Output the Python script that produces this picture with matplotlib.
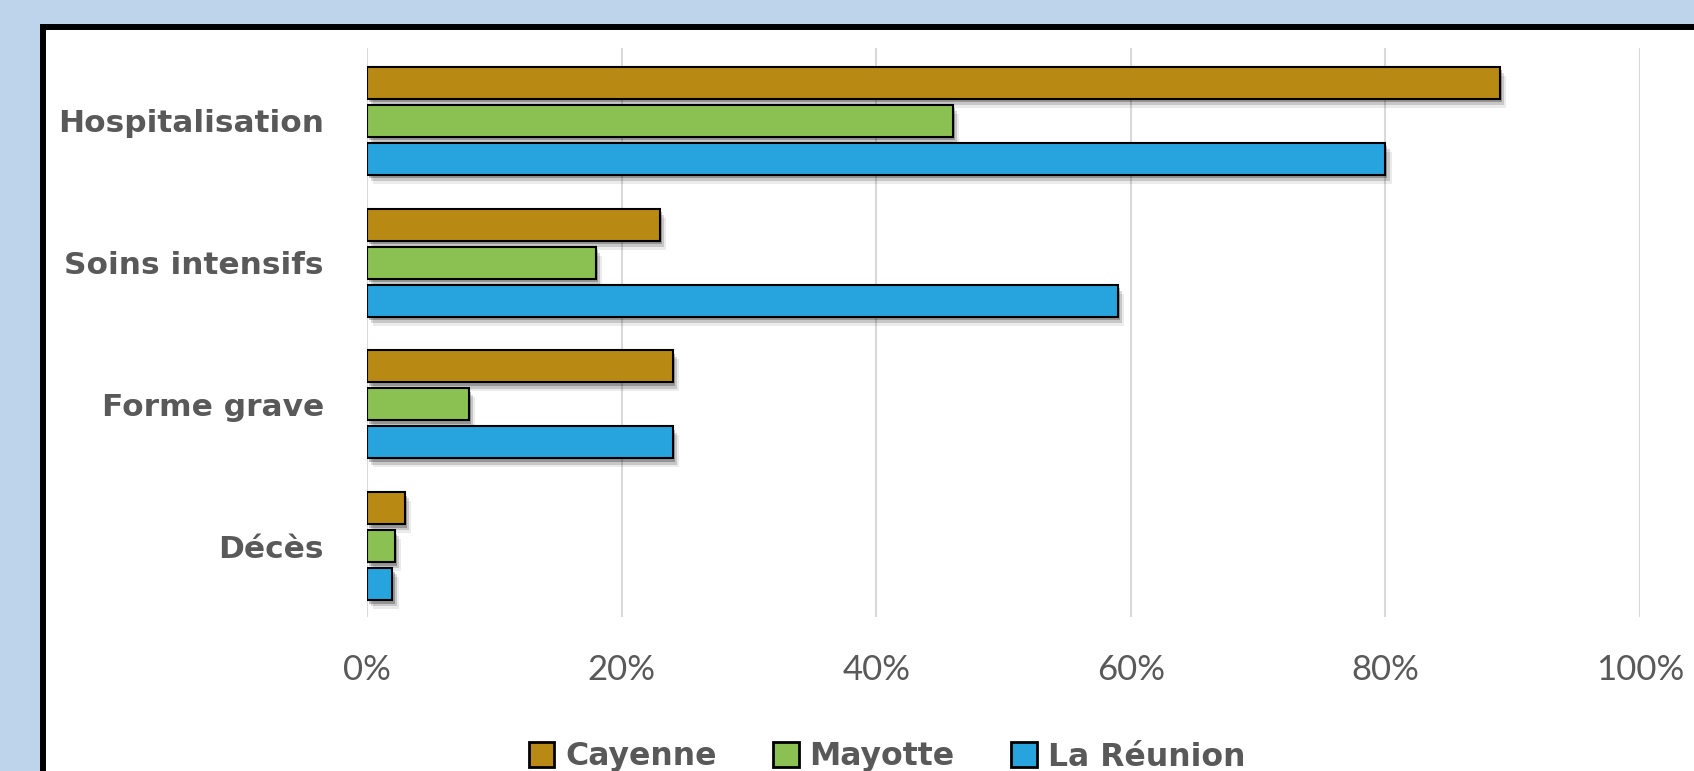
import matplotlib
matplotlib.use("Agg")
import matplotlib.pyplot as plt
import matplotlib.patheffects as pe
from matplotlib.patches import Rectangle, Patch
import numpy as np

categories = ["Décès", "Forme grave", "Soins intensifs", "Hospitalisation"]
series_names = ["Cayenne", "Mayotte", "La Réunion"]
cayenne = [3, 24, 23, 89]
mayotte = [2.2, 8, 18, 46]
reunion = [2, 24, 59, 80]
xticks = [0, 20, 40, 60, 80, 100]
xtick_labels = ["0%", "20%", "40%", "60%", "80%", "100%"]

colors = ["#B88A14", "#8BC152", "#27A4DD"]
text_color = "#595959"
plt.rcParams['font.family'] = ['Lato', 'DejaVu Sans']

W, H = 1694, 771
fig = plt.figure(figsize=(W / 100, H / 100), dpi=100)
fig.patch.set_facecolor("#BED4EA")

# white panel with black border (extends past right/bottom)
panel = Rectangle((43 / W, -0.2), 1.2, 1 - 27 / H + 0.2, transform=fig.transFigure,
                  facecolor="white", edgecolor="black", linewidth=4.3, zorder=-10)
fig.patches.append(panel)

ax = fig.add_axes([367 / W, 1 - 617 / H, (1640 - 367) / W, (617 - 48) / H])
ax.set_facecolor("none")

y = np.arange(len(categories))
offset = 0.268
height = 0.226
shadow = [pe.SimplePatchShadow(offset=(1.5, -2.5), shadow_rgbFace="black", alpha=0.25),
          pe.SimplePatchShadow(offset=(3, -4.5), shadow_rgbFace="black", alpha=0.15),
          pe.SimplePatchShadow(offset=(4.5, -6.5), shadow_rgbFace="black", alpha=0.08),
          pe.Normal()]
for vals, off, col in zip([cayenne, mayotte, reunion], [offset, 0, -offset], colors):
    bars = ax.barh(y + off, vals, height=height, color=col, edgecolor="black",
                   linewidth=1.5, zorder=3)
    for b in bars:
        b.set_path_effects(shadow)

ax.set_xlim(0, 100)
ax.set_ylim(-0.5, 3.515)
ax.set_xticks(xticks)
ax.set_xticklabels(xtick_labels, fontsize=25, color=text_color)
ax.set_yticks(y)
ax.set_yticklabels(categories, fontsize=22.5, fontweight="bold", color=text_color,
                   family="DejaVu Sans")
ax.tick_params(axis="x", length=0, pad=27)
ax.tick_params(axis="y", length=0, pad=31)
ax.grid(axis="x", color="#D9D9D9", linewidth=1.5, zorder=0)
ax.set_axisbelow(True)
for s in ax.spines.values():
    s.set_visible(False)

handles = [Patch(facecolor=c, edgecolor="black", linewidth=2) for c in colors]
leg = fig.legend(handles, series_names, loc="center", bbox_to_anchor=(887 / W, 1 - 757 / H),
                 ncol=3, frameon=False, handlelength=0.8, handleheight=0.8,
                 handletextpad=0.35, columnspacing=1.8, borderpad=0,
                 prop={"size": 22.7, "weight": "bold", "family": "DejaVu Sans"})
for t in leg.get_texts():
    t.set_color(text_color)

fig.savefig("out.png", dpi=100, facecolor=fig.get_facecolor())
